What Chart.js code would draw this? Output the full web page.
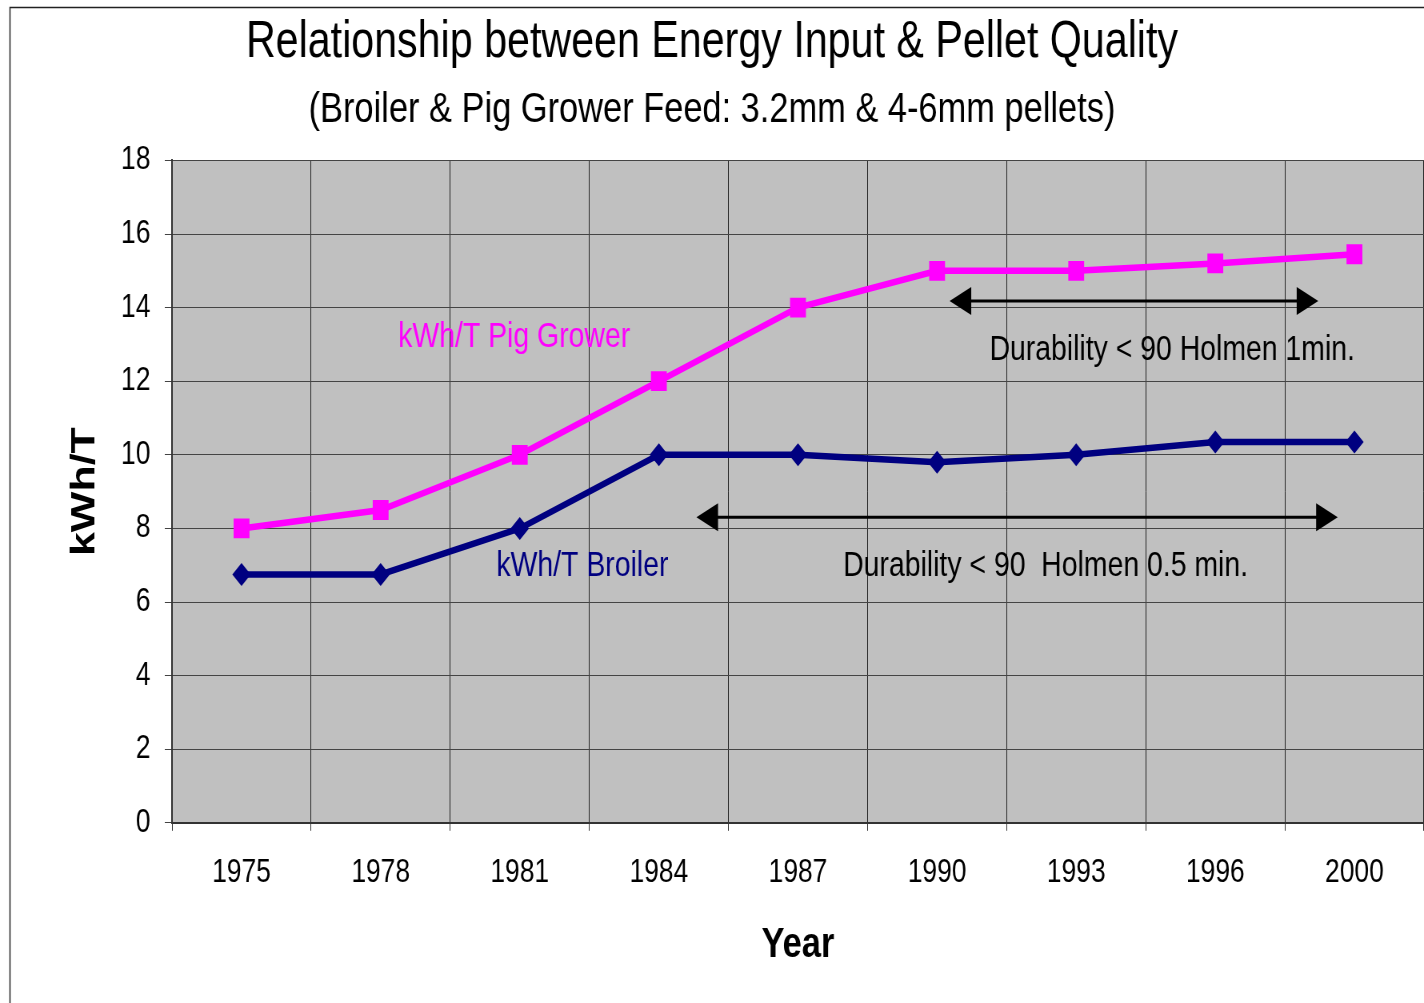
<!DOCTYPE html>
<html>
<head>
<meta charset="utf-8">
<script src="https://cdn.jsdelivr.net/npm/chart.js@4.4.0/dist/chart.umd.min.js"></script>
<style>
  html, body { margin: 0; padding: 0; background: #fff; overflow: hidden; }
  /* the original picture is squeezed sideways, so draw wide and squeeze */
  #wrap { width: 1780px; height: 1003px; position: relative; transform: scaleX(0.8); transform-origin: 0 0; }
</style>
</head>
<body>
<div id="wrap"><canvas id="chart"></canvas></div>
<script>
const years = ["1975", "1978", "1981", "1984", "1987", "1990", "1993", "1996", "2000"];
const pigGrower = [8.0, 8.5, 10.0, 12.0, 14.0, 15.0, 15.0, 15.2, 15.45];
const broiler = [6.75, 6.75, 8.0, 10.0, 10.0, 9.8, 10.0, 10.35, 10.35];

// arrows: [fromIndex, toIndex, value]
const arrows = [
    [5.09, 7.74, 14.18],
    [3.27, 7.88, 8.3]
];
// labels: [text, index, value, colour]
const notes = [
    ["kWh/T Pig Grower", 1.96, 13.2, "#ff00ff"],
    ["kWh/T Broiler", 2.45, 6.98, "#000080"],
    ["Durability < 90 Holmen 1min.", 6.69, 12.84, "#000000"],
    ["Durability < 90  Holmen 0.5 min.", 5.78, 6.98, "#000000"]
];

const FONT = "'Liberation Sans', Arial, sans-serif";

const framePlugin = {
    id: 'frame',
    beforeDraw(chart) {
        const ctx = chart.ctx, a = chart.chartArea;
        ctx.save();
        ctx.strokeStyle = "#222";
        ctx.lineWidth = 1.5;
        ctx.beginPath();
        ctx.moveTo(12.5, chart.height);
        ctx.lineTo(12.5, 7.5);
        ctx.lineTo(chart.width, 7.5);
        ctx.stroke();
        ctx.fillStyle = "#c0c0c0";
        ctx.fillRect(a.left, a.top, a.right - a.left, a.bottom - a.top);
        ctx.restore();
    },
    afterDatasetsDraw(chart) {
        const ctx = chart.ctx;
        const xs = chart.scales.x, ys = chart.scales.y;
        ctx.save();
        arrows.forEach(([i0, i1, v]) => {
            const x0 = xs.getPixelForValue(i0), x1 = xs.getPixelForValue(i1);
            const y = ys.getPixelForValue(v);
            ctx.strokeStyle = "#000";
            ctx.lineWidth = 3;
            ctx.beginPath();
            ctx.moveTo(x0 + 10, y);
            ctx.lineTo(x1 - 10, y);
            ctx.stroke();
            ctx.fillStyle = "#000";
            ctx.beginPath();
            ctx.moveTo(x0, y);
            ctx.lineTo(x0 + 27, y - 14);
            ctx.lineTo(x0 + 27, y + 14);
            ctx.closePath();
            ctx.fill();
            ctx.beginPath();
            ctx.moveTo(x1, y);
            ctx.lineTo(x1 - 27, y - 14);
            ctx.lineTo(x1 - 27, y + 14);
            ctx.closePath();
            ctx.fill();
        });
        ctx.font = "35.5px " + FONT;
        ctx.textAlign = "center";
        ctx.textBaseline = "middle";
        notes.forEach(([t, i, v, c]) => {
            ctx.fillStyle = c;
            ctx.fillText(t, xs.getPixelForValue(i), ys.getPixelForValue(v));
        });
        ctx.restore();
    }
};

new Chart(document.getElementById("chart"), {
    type: 'line',
    data: {
        labels: years,
        datasets: [{
            label: "kWh/T Pig Grower",
            data: pigGrower,
            borderColor: "#ff00ff",
            backgroundColor: "#ff00ff",
            borderWidth: 6.5,
            pointStyle: 'rect',
            pointRadius: 14,
            pointBorderWidth: 0,
            fill: false
        }, {
            label: "kWh/T Broiler",
            data: broiler,
            borderColor: "#000080",
            backgroundColor: "#000080",
            borderWidth: 6.5,
            pointStyle: 'rectRot',
            pointRadius: 11.5,
            pointBorderWidth: 0,
            fill: false
        }]
    },
    options: {
        responsive: true,
        maintainAspectRatio: false,
        animation: false,
        layout: { autoPadding: false, padding: { left: 0, right: 0, top: 0, bottom: 32 } },
        plugins: {
            legend: { display: false },
            tooltip: { enabled: false },
            title: {
                display: true,
                text: "Relationship between Energy Input & Pellet Quality",
                color: "#000",
                font: { family: FONT, size: 51.5, weight: 'normal' },
                padding: { top: 12, bottom: 11 }
            },
            subtitle: {
                display: true,
                text: "(Broiler & Pig Grower Feed: 3.2mm & 4-6mm pellets)",
                color: "#000",
                font: { family: FONT, size: 43, weight: 'normal' },
                padding: { top: 0, bottom: 24 }
            }
        },
        scales: {
            x: {
                offset: true,
                grid: { offset: true, color: "#222", lineWidth: 1, tickLength: 8, tickColor: "#333" },
                border: { color: "#333", width: 2 },
                ticks: { color: "#000", font: { family: FONT, size: 33 }, padding: 22, maxRotation: 0 },
                title: {
                    display: true, text: "Year", color: "#000",
                    font: { family: FONT, size: 43, weight: 'bold' },
                    padding: { top: 5, bottom: 0 }
                }
            },
            y: {
                min: 0, max: 18,
                afterFit(scale) { scale.width = 215; },
                grid: { color: "#444", lineWidth: 1, tickLength: 9, tickColor: "#444" },
                border: { color: "#333", width: 2 },
                ticks: { stepSize: 2, color: "#000", font: { family: FONT, size: 33 }, padding: 18 },
                title: {
                    display: true, text: "kWh/T", color: "#000",
                    font: { family: FONT, size: 43, weight: 'bold' },
                    padding: { top: 80, bottom: 0 }
                }
            }
        }
    },
    plugins: [framePlugin]
});
</script>
</body>
</html>
